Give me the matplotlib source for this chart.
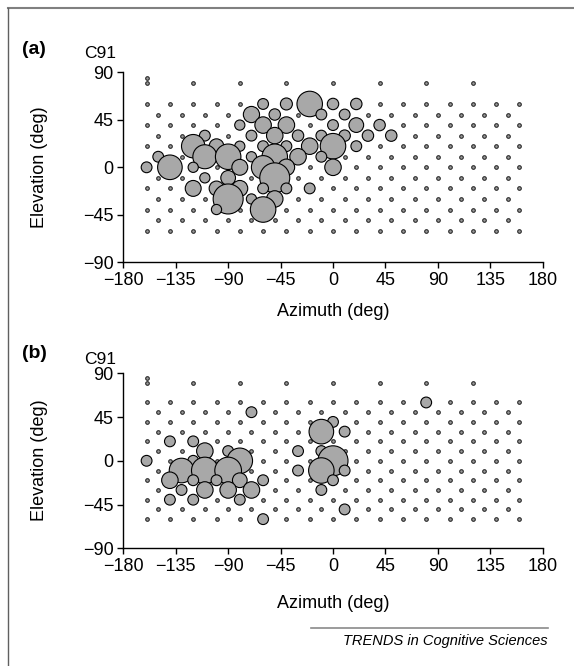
import matplotlib
matplotlib.use("Agg")
import matplotlib.pyplot as plt
from matplotlib.lines import Line2D
import numpy as np

plt.rcParams["font.family"] = ["Liberation Sans", "DejaVu Sans"]

W, H = 574, 666

# speaker grid (deg): even rows use AZ_EVEN, odd rows use AZ_ODD
EL_EVEN = [60, 40, 20, 0, -20, -40, -60]
EL_ODD = [50, 30, 10, -10, -30, -50]
AZ_EVEN = [-160, -140, -120, -100, -80, -60, -40, -20, 0, 20, 40, 60, 80, 100, 120, 140, 160]
AZ_ODD = [-150, -130, -110, -90, -70, -50, -30, -10, 10, 30, 50, 70, 90, 110, 130, 150]
AZ_TOP = [-160, -120, -80, -40, 0, 40, 80, 120]
EL_TOP = 80
AZ_EXTRA = [-160]
EL_EXTRA = [85]

# panel (a): locations with a response, and the relative response
A_AZ = [-20, -60, -40, 0, 20, -70, -50, -10, 10, -80, -60, -40, 0, 20, 40,
        -110, -70, -50, -30, -10, 10, 30, 50, -120, -100, -80, -60, -40, -20, 0, 20,
        -150, -110, -90, -70, -50, -30, -10, -160, -140, -120, -80, -60, -40, 0,
        -110, -90, -50, -120, -100, -80, -60, -40, -20, -90, -70, -50, -100, -60]
A_EL = [60, 60, 60, 60, 60, 50, 50, 50, 50, 40, 40, 40, 40, 40, 40,
        30, 30, 30, 30, 30, 30, 30, 30, 20, 20, 20, 20, 20, 20, 20, 20,
        10, 10, 10, 10, 10, 10, 10, 0, 0, 0, 0, 0, 0, 0,
        -10, -10, -10, -20, -20, -20, -20, -20, -20, -30, -30, -30, -40, -40]
A_RESP = [0.85, 0.36, 0.40, 0.38, 0.38, 0.54, 0.38, 0.36, 0.36, 0.34, 0.55, 0.55, 0.36, 0.49, 0.38,
          0.36, 0.36, 0.55, 0.38, 0.36, 0.38, 0.38, 0.38, 0.78, 0.49, 0.34, 0.36, 0.36, 0.55, 0.85, 0.36,
          0.36, 0.80, 0.85, 0.34, 0.85, 0.55, 0.36, 0.36, 0.82, 0.34, 0.53, 0.78, 0.55, 0.55,
          0.34, 0.49, 1.00, 0.53, 0.49, 0.53, 0.36, 0.36, 0.36, 1.00, 0.34, 0.55, 0.34, 0.85]

# panel (b)
B_AZ = [80, -70, 0, -10, 10, -140, -120, -110, -90, -30, -10,
        -160, -120, -80, 0, -130, -110, -90, -30, -10, 10,
        -140, -120, -100, -80, -60, 0, -130, -110, -90, -70, -10,
        -140, -120, -80, 10, -60]
B_EL = [60, 50, 40, 30, 30, 20, 20, 10, 10, 10, 10,
        0, 0, 0, 0, -10, -10, -10, -10, -10, -10,
        -20, -20, -20, -20, -20, -20, -30, -30, -30, -30, -30,
        -40, -40, -40, -50, -60]
B_RESP = [0.36, 0.36, 0.36, 0.82, 0.36, 0.36, 0.36, 0.55, 0.36, 0.36, 0.36,
          0.36, 0.36, 0.85, 1.00, 0.82, 0.89, 0.89, 0.36, 0.85, 0.36,
          0.55, 0.36, 0.36, 0.49, 0.36, 0.36, 0.36, 0.55, 0.55, 0.55, 0.36,
          0.36, 0.36, 0.36, 0.36, 0.36]

MAX_R_PX = 15.0


def grid_points():
    az, el = [], []
    for e in EL_EVEN:
        az += AZ_EVEN
        el += [e] * len(AZ_EVEN)
    for e in EL_ODD:
        az += AZ_ODD
        el += [e] * len(AZ_ODD)
    az += AZ_TOP + AZ_EXTRA
    el += [EL_TOP] * len(AZ_TOP) + EL_EXTRA
    return np.array(az), np.array(el)


def fx(x):
    return x / W


def fy(y):
    return 1 - y / H


def panel(rect, az, el, resp):
    ax = fig.add_axes(rect)
    gaz, gel = grid_points()
    ax.plot(gaz, gel, "o", ms=2.6, mew=0.8, mec="#2a2a2a", mfc="#9a9a9a",
            ls="none", zorder=2, clip_on=False)
    az = np.asarray(az)
    el = np.asarray(el)
    r_px = np.asarray(resp) * MAX_R_PX
    s = (2 * r_px * 72 / fig.dpi) ** 2
    ax.scatter(az, el, s=s, c="#a8a8a8", edgecolors="black", linewidths=0.8,
               zorder=3, clip_on=False)
    ax.set_xlim(-180, 180)
    ax.set_ylim(-90, 90)
    ax.set_xticks(np.arange(-180, 181, 45))
    ax.set_yticks(np.arange(-90, 91, 45))
    for side in ("top", "right"):
        ax.spines[side].set_visible(False)
    for side in ("left", "bottom"):
        ax.spines[side].set_linewidth(1.0)
    ax.tick_params(direction="out", length=4, width=1.0, labelsize=13, pad=3)
    return ax


fig = plt.figure(figsize=(W / 100, H / 100), dpi=100)

left = fx(123.3)
width = fx(542.7) - left
panel([left, fy(262.3), width, fy(72.3) - fy(262.3)], A_AZ, A_EL, A_RESP)
panel([left, fy(548.3), width, fy(373.3) - fy(548.3)], B_AZ, B_EL, B_RESP)

for tag, ty, cy, ly, xly in (("(a)", 50, 54, 167, 311), ("(b)", 354, 359, 460, 603)):
    fig.text(fx(22), fy(ty), tag, fontsize=14, fontweight="bold", ha="left", va="center")
    fig.text(fx(84), fy(cy), "C91", fontsize=12.5, ha="left", va="center")
    fig.text(fx(40), fy(ly), "Elevation (deg)", fontsize=13, rotation=90,
             ha="center", va="center")
    fig.text(fx(333), fy(xly), "Azimuth (deg)", fontsize=13, ha="center", va="center")

# outer frame (top and left) and journal footer
fig.add_artist(Line2D([fx(8), 1], [fy(8), fy(8)], color="#808080", lw=1.5))
fig.add_artist(Line2D([fx(8), fx(8)], [fy(8), 0], color="#606060", lw=1.0))
fig.add_artist(Line2D([fx(311), fx(548)], [fy(628), fy(628)], color="#8a8a8a", lw=1.2))
fig.text(fx(548), fy(641), "TRENDS in Cognitive Sciences", fontsize=10.5,
         style="italic", ha="right", va="center")

fig.savefig("out.png", dpi=100)
